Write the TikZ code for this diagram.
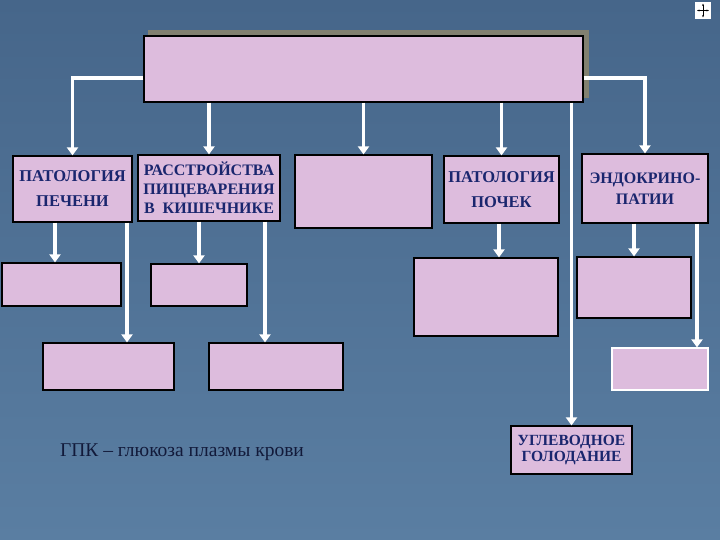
\documentclass[tikz,border=0pt]{standalone}
\usepackage{fontspec}
\setmainfont{Liberation Serif}
\usetikzlibrary{arrows.meta}
\definecolor{bgtop}{RGB}{70,102,138}
\definecolor{bgbot}{RGB}{90,126,162}
\definecolor{boxfill}{RGB}{221,188,221}
\definecolor{boxtext}{RGB}{26,38,110}
\definecolor{notetext}{RGB}{18,26,58}
\definecolor{shadowcol}{RGB}{130,128,112}
\tikzstyle{block} = [draw=black, fill=boxfill, line width=1.2pt, inner sep=0pt, text=boxtext, font=\bfseries\fontsize{16.5}{20}\selectfont, align=center]
\tikzstyle{arr} = [draw=white, line width=3.5pt, -{Triangle[width=11pt,length=8pt]}]

\begin{document}
\begin{tikzpicture}[x=1pt, y=-1pt]
	\useasboundingbox (0,0) rectangle (720,540);
	
	\node[block, minimum width=439, minimum height=66] (top) at (363.5,69) {};
	
	\node[block, minimum width=119, minimum height=66, font=\bfseries\fontsize{16.5}{25}\selectfont] (pech) at (72.5,189) {ПАТОЛОГИЯ\\ПЕЧЕНИ};
	\node[block, minimum width=142, minimum height=66, font=\bfseries\fontsize{16}{19}\selectfont] (kish) at (209,188) {РАССТРОЙСТВА\\ПИЩЕВАРЕНИЯ\\В\ \ КИШЕЧНИКЕ};
	\node[block, minimum width=137, minimum height=73] (mid) at (363.5,191.5) {};
	\node[block, minimum width=115, minimum height=67, font=\bfseries\fontsize{16.5}{25}\selectfont] (poch) at (501.5,189.5) {ПАТОЛОГИЯ\\ПОЧЕК};
	\node[block, minimum width=126, minimum height=69, font=\bfseries\fontsize{16}{21}\selectfont] (endo) at (645,188.5) {ЭНДОКРИНО-\\ПАТИИ};
	
	\node[block, minimum width=119, minimum height=43] (pech1) at (61.5,284.5) {};
	\node[block, minimum width=131, minimum height=47] (pech2) at (108.5,366.5) {};
	\node[block, minimum width=96, minimum height=42] (kish1) at (199,285) {};
	\node[block, minimum width=134, minimum height=47] (kish2) at (276,366.5) {};
	\node[block, minimum width=144, minimum height=78] (poch1) at (486,297) {};
	\node[block, minimum width=114, minimum height=61] (endo1) at (634,287.5) {};
	\node[block, draw=white, minimum width=96, minimum height=42] (endo2) at (660,369) {};
	\node[block, minimum width=121, minimum height=48, font=\bfseries\fontsize{15.5}{16}\selectfont] (golod) at (571.5,450) {УГЛЕВОДНОЕ\\ГОЛОДАНИЕ};
	
	\node[text=notetext, font=\fontsize{19.5}{22}\selectfont] (note) at (182,452) {ГПК – глюкоза плазмы крови};
	
	\draw[arr] ([yshift=-9pt]top.west) -| (pech.north);
	\draw[arr] ([yshift=-9pt]top.east) -| (endo.north);
	\draw[arr] (top.south -| kish.north) -- (kish.north);
	\draw[arr] (top.south -| mid.north) -- (mid.north);
	\draw[arr] (top.south -| poch.north) -- (poch.north);
	\draw[arr] (top.south -| golod.north) -- (golod.north);
	
	\draw[arr] (55,0 |- pech.south) -- (55,0 |- pech1.north);
	\draw[arr] (127,0 |- pech.south) -- (127,0 |- pech2.north);
	\draw[arr] (kish.south -| kish1.north) -- (kish1.north);
	\draw[arr] (265,0 |- kish.south) -- (265,0 |- kish2.north);
	\draw[arr] (499,0 |- poch.south) -- (499,0 |- poch1.north);
	\draw[arr] (endo.south -| endo1.north) -- (endo1.north);
	\draw[arr] (697,0 |- endo.south) -- (697,0 |- endo2.north);
	
	\fill[white] (695,2) rectangle (711,19);
	\draw[black, line width=0.6pt, {Stealth[length=2.5pt]}-{Stealth[length=2.5pt]}] (697,10.5) -- (709,10.5);
	\draw[black, line width=0.6pt, {Stealth[length=2.5pt]}-{Stealth[length=2.5pt]}] (703,3.5) -- (703,17.5);
	
	\pgfdeclarelayer{background}
	\pgfsetlayers{background,main}
	
	\begin{pgfonlayer}{background}
		\shade[top color=bgtop, bottom color=bgbot] (0,0) rectangle (720,540);
		\fill[shadowcol] ([shift={(5,-5)}]top.south west) rectangle ([shift={(5,-5)}]top.north east);
	\end{pgfonlayer}
\end{tikzpicture}
\end{document}
